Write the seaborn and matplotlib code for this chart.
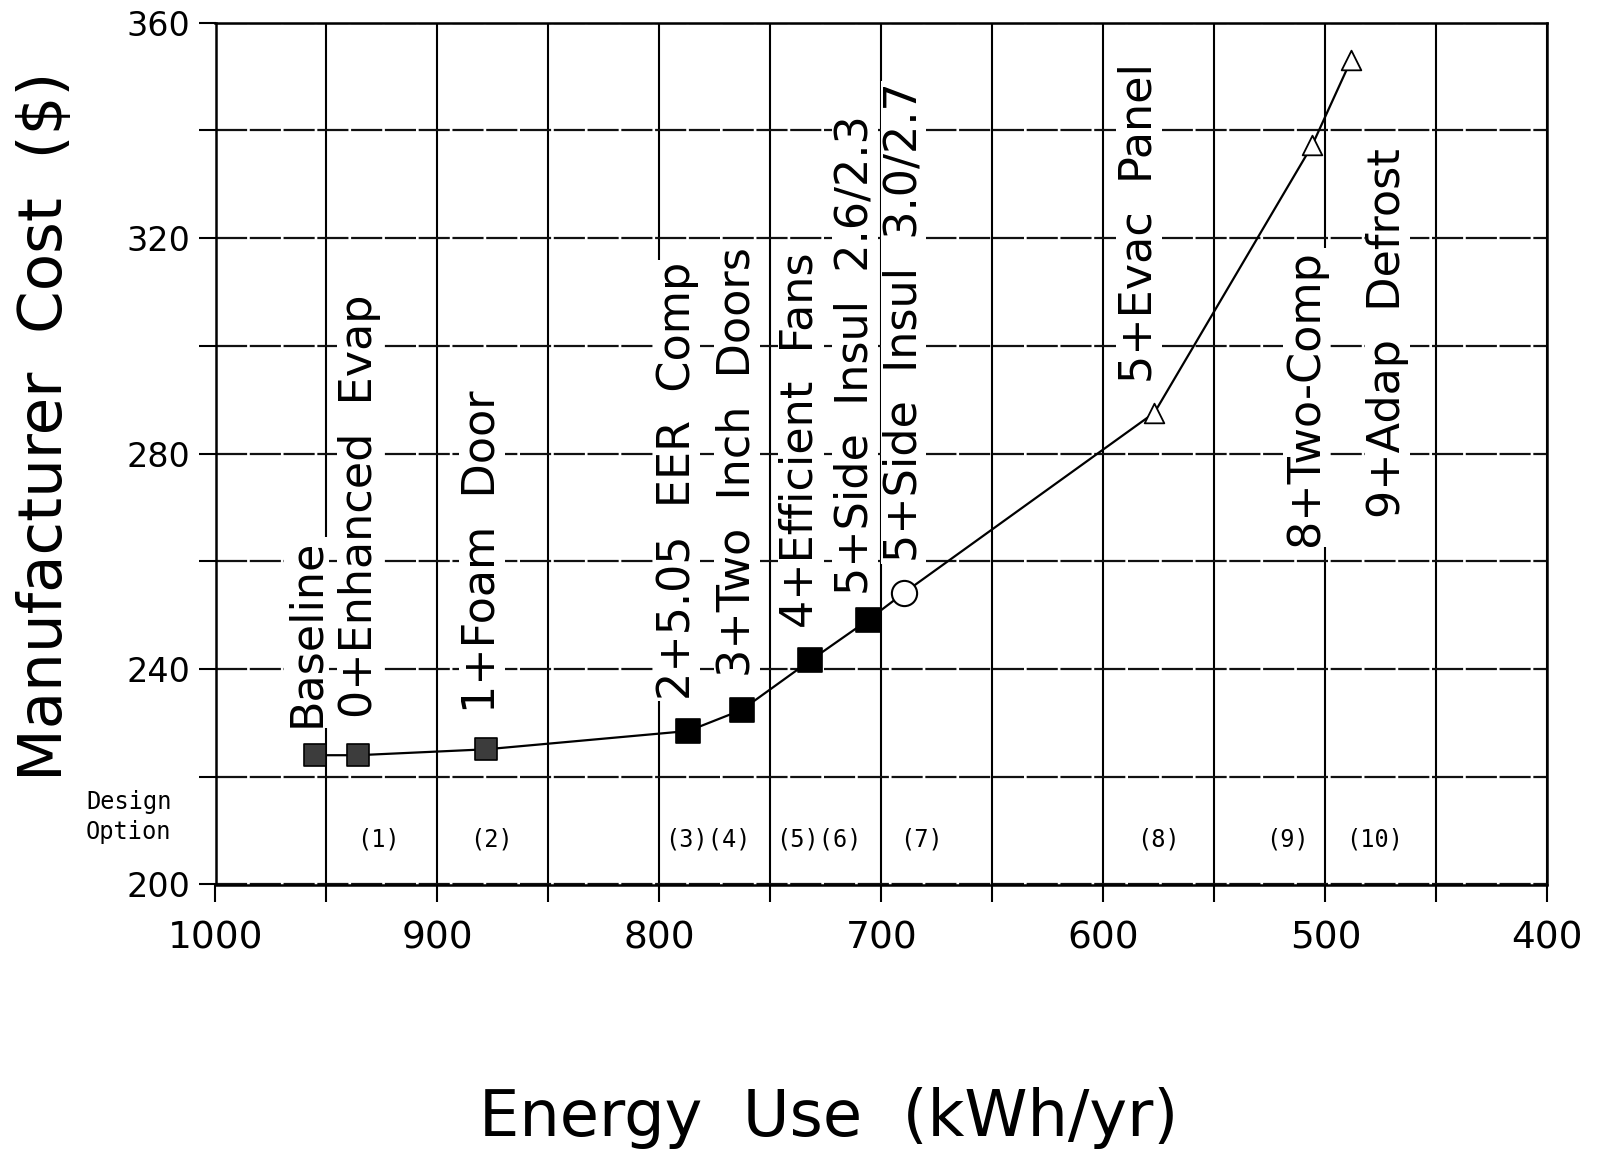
import matplotlib
matplotlib.use("Agg")
import matplotlib.pyplot as plt
import seaborn as sns
import pandas as pd
from matplotlib.ticker import MultipleLocator

# ---------------- data ----------------
design_labels = ["Baseline", "0+Enhanced  Evap", "1+Foam  Door", "2+5.05  EER  Comp",
                 "3+Two  Inch  Doors", "4+Efficient  Fans", "5+Side  Insul  2.6/2.3",
                 "5+Side  Insul  3.0/2.7", "5+Evac  Panel", "8+Two-Comp", "9+Adap  Defrost"]
energy_use = [955, 936, 878, 787, 763, 732, 706, 690, 577, 506, 488.5]
manufacturer_cost = [224.0, 224.0, 225.1, 228.5, 232.4, 241.6, 249.1, 254.1, 287.6, 337.2, 353.0]
marker_kind = ["gray square", "gray square", "gray square", "black square", "black square",
               "black square", "black square", "circle", "triangle", "triangle", "triangle"]

option_labels = ["(1)", "(2)", "(3)(4)", "(5)(6)", "(7)", "(8)", "(9)", "(10)"]
option_energy = [926.5, 875.6, 778, 728, 682, 575, 517, 478]

x_ticks = [1000, 900, 800, 700, 600, 500, 400]
y_ticks = [200, 240, 280, 320, 360]

# label anchor points (bottom-centre of the rotated texts), layout only
label_anchor_x = [959, 935, 880, 792, 765, 736.5, 712, 690, 584, 509, 472]
label_anchor_y = [229.3, 230.9, 231.8, 234.3, 238.5, 247.6, 253.7, 259.8, 293.1, 262.9, 268.0]

df = pd.DataFrame({"energy": energy_use, "cost": manufacturer_cost, "kind": marker_kind})

# ---------------- figure ----------------
sns.set_theme(style="white")
plt.rcParams["font.family"] = ["DejaVu Sans"]
plt.rcParams["text.color"] = "black"
plt.rcParams["xtick.labelcolor"] = "black"
plt.rcParams["ytick.labelcolor"] = "black"

fig = plt.figure(figsize=(16.09, 11.66), dpi=100)
ax = fig.add_axes([215.5 / 1609, 1 - 884.5 / 1166, (1547.4 - 215.5) / 1609, (884.5 - 22.6) / 1166])

ax.set_xlim(1000, 400)
ax.set_ylim(200, 360)

# grid
ax.xaxis.set_major_locator(MultipleLocator(100))
ax.xaxis.set_minor_locator(MultipleLocator(50))
ax.yaxis.set_major_locator(MultipleLocator(40))
ax.yaxis.set_minor_locator(MultipleLocator(20))
ax.grid(True, which="both", axis="x", color="black", lw=1.5, ls="-", zorder=0)
ax.grid(True, which="both", axis="y", color="#111111", lw=1.6, ls=(0, (14, 1.2)), zorder=0)
ax.set_axisbelow(True)

# line
sns.lineplot(data=df, x="energy", y="cost", sort=False, color="black", lw=1.6, ax=ax, zorder=2)

# markers
styles = {
    "gray square": dict(marker="s", s=270, color="#3c3c3c", edgecolor="black", linewidth=1.2),
    "black square": dict(marker="s", s=290, color="black", edgecolor="black", linewidth=1.2),
    "circle": dict(marker="o", s=330, color="white", edgecolor="black", linewidth=1.5),
    "triangle": dict(marker="^", s=200, color="white", edgecolor="black", linewidth=1.3),
}
for kind, st in styles.items():
    sub = df[df["kind"] == kind]
    sns.scatterplot(data=sub, x="energy", y="cost", ax=ax, zorder=4, legend=False, **st)

# rotated design labels
for lab, lx, ly in zip(design_labels, label_anchor_x, label_anchor_y):
    ax.text(lx, ly, lab, rotation=90, ha="center", va="bottom", fontsize=32,
            color="black", zorder=3,
            bbox=dict(facecolor="white", edgecolor="none", pad=1.0))

# design option numbers
for lab, ox in zip(option_labels, option_energy):
    ax.text(ox, 208.4, lab, ha="center", va="center", fontsize=17,
            family="DejaVu Sans Mono", color="black", zorder=3)
fig.text(86 / 1609, 1 - 817 / 1166, "Design\nOption", ha="left", va="center",
         fontsize=17, family="DejaVu Sans Mono", linespacing=1.35, color="black")

# ticks
ax.set_xticks(x_ticks)
ax.set_xticklabels([str(v) for v in x_ticks])
ax.set_yticks(y_ticks)
ax.set_yticklabels([str(v) for v in y_ticks])
ax.tick_params(axis="both", which="both", direction="out", length=12, width=1.5,
               color="black", bottom=True, left=True)
ax.tick_params(axis="x", which="major", labelsize=27, pad=14, labelcolor="black")
ax.tick_params(axis="y", which="major", labelsize=24, pad=6, labelcolor="black")
ax.set_xlabel("")
ax.set_ylabel("")

for sp in ax.spines.values():
    sp.set_visible(True)
    sp.set_color("black")
    sp.set_linewidth(1.8)

fig.text(46 / 1609, 1 - 426 / 1166, "Manufacturer  Cost  ($)", rotation=90,
         ha="center", va="center", fontsize=44, color="black")
fig.text(829 / 1609, 1 - 1118 / 1166, "Energy  Use  (kWh/yr)", ha="center", va="center",
         fontsize=46, color="black")

fig.savefig("out.png", dpi=100)
